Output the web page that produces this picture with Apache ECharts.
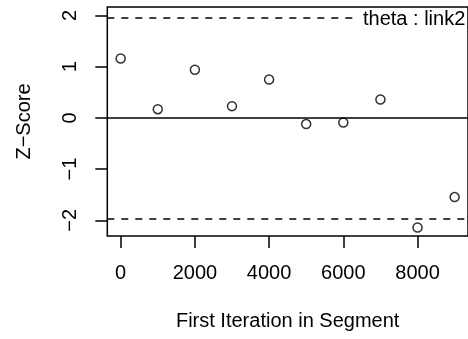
<!DOCTYPE html>
<html>
<head>
<meta charset="utf-8">
<script src="https://cdn.jsdelivr.net/npm/echarts@6/dist/echarts.min.js"></script>
<style>
  html, body { margin: 0; padding: 0; background: #fff; }
  #chart { width: 468px; height: 339px; }
</style>
</head>
<body>
<div id="chart"></div>
<script>
// Geweke diagnostic: z-scores by first iteration of each segment
const iterations = [0, 1000, 2000, 3000, 4000, 5000, 6000, 7000, 8000, 9000];
const zScores = [1.16, 0.17, 0.94, 0.23, 0.75, -0.12, -0.09, 0.36, -2.14, -1.545];
const xTicks = [0, 2000, 4000, 6000, 8000];
const yTicks = [-2, -1, 0, 1, 2];
const zLimit = 1.96;
const panelLabel = 'theta : link2';

// R-style axis range: data extent padded by 4% on each side
function paddedRange(lo, hi) {
  const pad = (hi - lo) * 0.04;
  return [lo - pad, hi + pad];
}
const xRange = paddedRange(Math.min(...iterations), Math.max(...iterations));
const yRange = paddedRange(Math.min(-2, ...zScores), Math.max(2, ...zScores));

const FONT = 'Liberation Sans, Arial, Helvetica, sans-serif';
const chart = echarts.init(document.getElementById('chart'), null, { renderer: 'canvas' });

chart.setOption({
  animation: false,
  backgroundColor: '#ffffff',
  grid: {
    left: 107.3, top: 7, bottom: 103, right: -2.1,
    show: true, borderColor: '#000', borderWidth: 1.5, backgroundColor: 'transparent'
  },
  xAxis: {
    type: 'value',
    min: xRange[0], max: xRange[1],
    name: 'First Iteration in Segment',
    nameLocation: 'middle', nameGap: 75,
    nameTextStyle: { color: '#000', fontSize: 20, fontFamily: FONT },
    splitLine: { show: false },
    axisLine: { show: false, onZero: false },
    axisTick: { show: true, inside: false, length: 12, customValues: xTicks, lineStyle: { color: '#000', width: 1.5 } },
    axisLabel: { customValues: xTicks, margin: 27, color: '#000', fontSize: 20, fontFamily: FONT, formatter: v => String(v) }
  },
  yAxis: {
    type: 'value',
    min: yRange[0], max: yRange[1],
    name: 'Z\u2212Score',
    nameLocation: 'middle', nameGap: 73,
    nameTextStyle: { color: '#000', fontSize: 20, fontFamily: FONT, padding: [0, 0, 0, 0] },
    splitLine: { show: false },
    axisLine: { show: false, onZero: false },
    axisTick: { show: true, inside: false, length: 12, customValues: yTicks, lineStyle: { color: '#000', width: 1.5 } },
    axisLabel: {
      customValues: yTicks, rotate: 90, margin: 27, color: '#000', fontSize: 20, fontFamily: FONT,
      formatter: v => (v < 0 ? '\u2212' + Math.abs(v) : String(v))
    }
  },
  series: [{
    type: 'scatter',
    data: iterations.map((x, i) => [x, zScores[i]]),
    symbol: 'circle',
    symbolSize: 9,
    itemStyle: { color: '#fff', borderColor: '#000', borderWidth: 1.5 },
    markLine: {
      silent: true,
      symbol: ['none', 'none'],
      label: { show: false },
      data: [
        { yAxis: 0, lineStyle: { type: 'solid', color: '#000', width: 1.5 } },
        { yAxis: zLimit, lineStyle: { type: [7, 7], color: '#000', width: 1.5 } },
        { yAxis: -zLimit, lineStyle: { type: [7, 7], color: '#000', width: 1.5 } }
      ]
    }
  }],
  graphic: [{
    type: 'text',
    left: 357, top: 9,
    z: 100,
    style: {
      text: panelLabel,
      fill: '#000',
      font: '20px ' + FONT,
      backgroundColor: '#fff',
      padding: [0, 0, 0, 6]
    }
  }]
});
</script>
</body>
</html>
